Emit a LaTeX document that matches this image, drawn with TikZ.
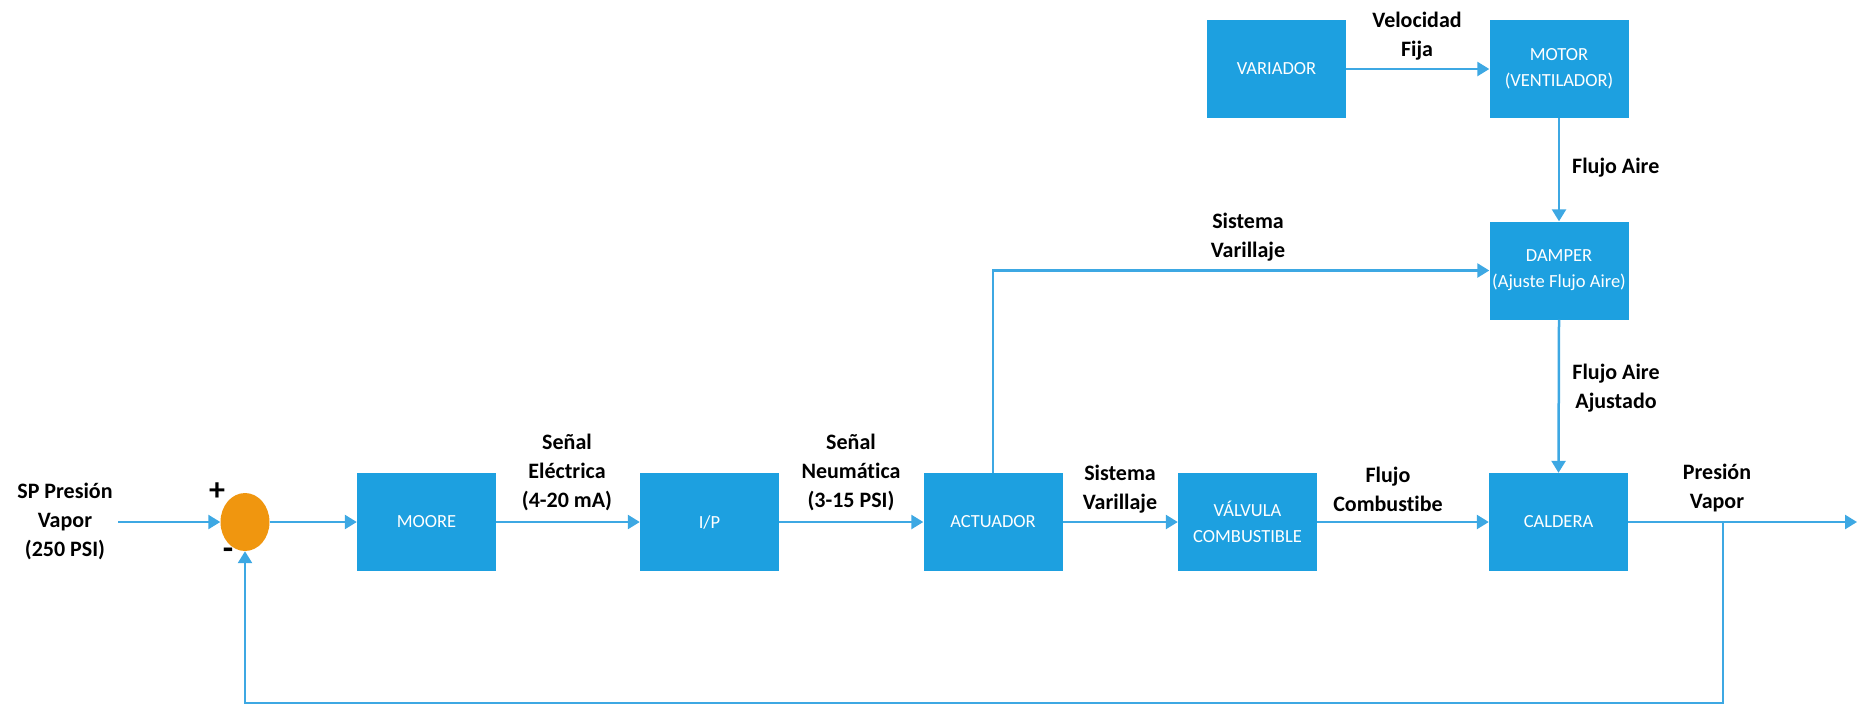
\documentclass[tikz,border=0pt]{standalone}
\usepackage{fontspec}
\setmainfont{Carlito}[Ligatures=NoCommon]
\usetikzlibrary{arrows.meta,shapes.geometric}
\definecolor{boxblue}{HTML}{1DA0E0}
\definecolor{lineblue}{HTML}{3DA8E3}
\definecolor{sumorange}{HTML}{F0960F}
\begin{document}
\begin{tikzpicture}[x=1pt,y=-1pt,
 blk/.style={rectangle,fill=boxblue,minimum width=139pt,minimum height=98pt,inner sep=0pt,text=white,align=center,font=\fontsize{18.5}{26}\selectfont},
 lbl/.style={align=center,font=\bfseries\fontsize{22}{29}\selectfont,inner sep=0pt},
 con/.style={draw=lineblue,line width=2.5pt,-{Triangle[length=12pt,width=14pt]}},
 ln/.style={draw=lineblue,line width=2.5pt}]
\useasboundingbox (0,0) rectangle (1862,705);
% blocks
\node[blk] (moore) at (426.5,522) {MOORE};
\node[blk] (ip) at (709.5,522) {I/P};
\node[blk] (act) at (993,522) {ACTUADOR};
\node[blk] (val) at (1247.5,522) {VÁLVULA\\COMBUSTIBLE};
\node[blk] (cal) at (1558.5,522) {CALDERA};
\node[blk] (var) at (1276.5,69) {VARIADOR};
\node[blk] (mot) at (1559,69) {MOTOR\\(VENTILADOR)};
\node[blk] (dam) at (1559,270.5) {DAMPER\\(Ajuste Flujo Aire)};
\node[ellipse,fill=sumorange,minimum width=49pt,minimum height=58pt,inner sep=0pt] (sum) at (245,522) {};
% free ends
\coordinate (in) at (118,522);
\coordinate (out) at (1857,522);
\coordinate (tap) at (1723,522);
\coordinate (fb) at (1723,703);
% connectors
\draw[con] (in) -- (sum.west);
\draw[con] (sum.east) -- (moore.west);
\draw[con] (moore.east) -- (ip.west);
\draw[con] (ip.east) -- (act.west);
\draw[con] (act.east) -- (val.west);
\draw[con] (val.east) -- (cal.west);
\draw[con] (act.north) |- (dam.west);
\draw[con] (var.east) -- (mot.west);
\draw[con] (mot.south) -- (dam.north);
\draw[con] (dam.south) -- (cal.north);
\draw[con] (cal.east) -- (out);
\draw[con] (tap) -- (fb) -| (sum.south);
% labels
\node[lbl] (sp) at (65,521) {SP Presión\\Vapor\\(250 PSI)};
\node[font=\bfseries\fontsize{32}{32}\selectfont,inner sep=0pt] (plus) at (217,492) {+};
\node[font=\bfseries\fontsize{34}{34}\selectfont,inner sep=0pt] (minus) at (228,554) {-};
\node[lbl] (l1) at (567,472) {Señal\\Eléctrica\\(4-20 mA)};
\node[lbl] (l2) at (851,472) {Señal\\Neumática\\(3-15 PSI)};
\node[lbl] (l3) at (1120,489) {Sistema\\Varillaje};
\node[lbl] (l4) at (1388,489) {Flujo\\Combustibe};
\node[lbl] (l5) at (1717,488) {Presión\\Vapor};
\node[lbl] (l6) at (1248,237) {Sistema\\Varillaje};
\node[lbl] (l7) at (1417,36) {Velocidad\\Fija};
\node[lbl,anchor=west] (l8) at (1572,168) {Flujo Aire};
\node[lbl] (l9) at (1616,388) {Flujo Aire\\Ajustado};
\end{tikzpicture}
\end{document}
